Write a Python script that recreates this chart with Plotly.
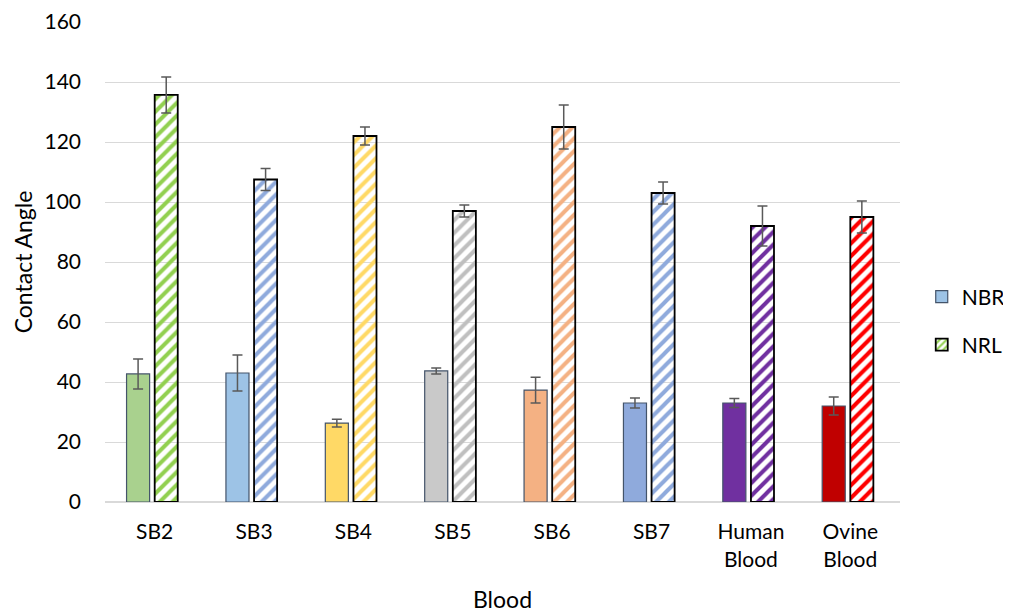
import plotly.graph_objects as go

categories = ["SB2", "SB3", "SB4", "SB5", "SB6", "SB7", "Human<br>Blood", "Ovine<br>Blood"]
nbr_values = [42.7, 43.0, 26.3, 43.7, 37.3, 33.0, 33.0, 32.0]
nbr_errors = [5.0, 6.0, 1.3, 1.0, 4.3, 1.7, 1.5, 3.0]
nrl_values = [135.7, 107.5, 122.0, 97.0, 125.0, 103.0, 92.0, 95.0]
nrl_errors = [6.0, 3.7, 3.0, 2.0, 7.3, 3.7, 6.7, 5.3]
nbr_colors = ["#A9D18E", "#9DC3E6", "#FFD966", "#C9C9C9", "#F4B183", "#8FAADC", "#7030A0", "#C00000"]
nrl_colors = ["#92D050", "#8FAADC", "#FFD966", "#BFBFBF", "#F4B183", "#8FAADC", "#7030A0", "#FF0000"]

FONT = "Lato, Carlito, Calibri, sans-serif"
err_style = dict(type="data", color="#595959", thickness=1.5, width=5)

fig = go.Figure()
fig.add_trace(go.Bar(
    x=categories, y=nbr_values, name="NBR", showlegend=False,
    width=0.232, offset=-0.283,
    marker=dict(color=nbr_colors, line=dict(color="#44546A", width=1.2)),
    error_y=dict(array=nbr_errors, **err_style),
))
fig.add_trace(go.Bar(
    x=categories, y=nrl_values, name="NRL", showlegend=False,
    width=0.232, offset=0.0,
    marker=dict(color=nrl_colors, line=dict(color="#000000", width=1.8),
                pattern=dict(shape="/", bgcolor="white", size=9, solidity=0.45, fillmode="replace")),
    error_y=dict(array=nrl_errors, **err_style),
))
# legend-only traces
fig.add_trace(go.Bar(
    x=[categories[0]], y=[None], name="NBR", legend="legend",
    marker=dict(color="#9DC3E6", line=dict(color="#44546A", width=1.2)),
))
fig.add_trace(go.Bar(
    x=[categories[0]], y=[None], name="NRL", legend="legend2",
    marker=dict(color="#92D050", line=dict(color="#000000", width=1.8),
                pattern=dict(shape="/", bgcolor="white", size=6, solidity=0.45, fillmode="replace")),
))

# page body has an 8px margin, so the figure is sized 1003x606 and offset accordingly
leg_common = dict(xref="container", yref="container", xanchor="left", yanchor="middle",
                  font=dict(size=21), bgcolor="rgba(0,0,0,0)", itemwidth=30)
fig.update_layout(
    width=1003, height=606,
    barmode="overlay",
    plot_bgcolor="white", paper_bgcolor="white",
    margin=dict(l=97, r=111, t=14, b=112),
    font=dict(family=FONT, size=21, color="#000000"),
    legend=dict(x=0.911, y=0.523, **leg_common),
    legend2=dict(x=0.911, y=0.444, **leg_common),
    xaxis=dict(
        type="category", range=[-0.5, 7.5], showgrid=False, automargin=False,
        showline=True, linecolor="#D9D9D9", linewidth=1,
        ticks="", tickfont=dict(size=21), ticklabelstandoff=11,
        title=dict(text="Blood", font=dict(size=23), standoff=22),
    ),
    yaxis=dict(
        range=[0, 160], dtick=20, showgrid=True, gridcolor="#D9D9D9", gridwidth=1, automargin=False,
        zeroline=True, zerolinecolor="#D9D9D9", showline=False,
        ticks="", tickfont=dict(size=21), ticklabelstandoff=23,
        title=dict(text="Contact Angle", font=dict(size=23), standoff=5),
    ),
)

fig.write_html("out.html")
